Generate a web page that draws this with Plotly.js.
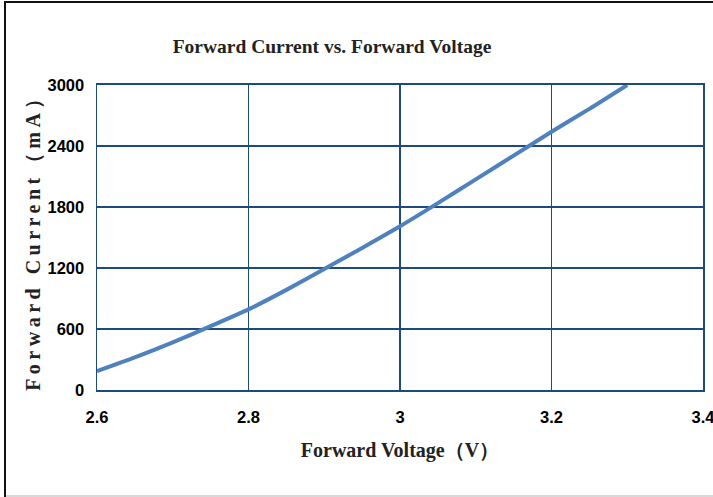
<!DOCTYPE html>
<html>
<head>
<meta charset="utf-8">
<script src="https://cdn.plot.ly/plotly-3.0.1.min.js"></script>
<style>
  html, body { margin: 0; padding: 0; background: #fff; }
  #wrap { position: relative; width: 713px; height: 497px; overflow: hidden; }
  #chart { width: 713px; height: 497px; }
  #bl { position: absolute; left: 4px; top: 1px; width: 2px; height: 496px; background: #111; }
  #bt { position: absolute; left: 4px; top: 1px; width: 709px; height: 2px; background: #111; }
  #bb { position: absolute; left: 6px; top: 495px; width: 707px; height: 2px; background: #d9d9d9; }
  .g-ytitle text { letter-spacing: 4.5px; }
</style>
</head>
<body>
<div id="wrap">
  <div id="chart"></div>
  <div id="bl"></div><div id="bt"></div><div id="bb"></div>
</div>
<script>
// Forward voltage (V) and forward current (mA)
const voltage = [2.60, 2.65, 2.70, 2.75, 2.80, 2.85, 2.90, 2.95, 3.00, 3.05, 3.10, 3.15, 3.20, 3.25, 3.30];
const current = [185, 320, 468, 628, 793, 985, 1190, 1397, 1610, 1838, 2072, 2305, 2540, 2765, 3000];
const xTicks = [2.6, 2.8, 3.0, 3.2, 3.4];
const xTickText = ['2.6', '2.8', '3', '3.2', '3.4'];
const yTicks = [0, 600, 1200, 1800, 2400, 3000];

const gridColor = '#1f4a7c';
const serif = '"Liberation Serif", "Times New Roman", serif';
const tickFont = { family: '"Liberation Sans Narrow", "Liberation Sans", Arial, sans-serif', size: 16.5, color: '#000', weight: 'bold' };

const trace = {
  x: voltage, y: current, type: 'scatter', mode: 'lines',
  line: { color: '#4f81bd', width: 4, shape: 'spline', smoothing: 0.6 },
  hoverinfo: 'skip'
};

const layout = {
  width: 713, height: 497,
  margin: { l: 97, r: 10, t: 85, b: 107 },
  paper_bgcolor: '#fff', plot_bgcolor: '#fff',
  showlegend: false,
  title: {
    text: 'Forward Current vs. Forward Voltage',
    font: { family: serif, size: 19.5, color: '#222', weight: 'bold' },
    xref: 'container', yref: 'container',
    x: 332 / 713, xanchor: 'center', y: 1 - 46 / 497, yanchor: 'middle'
  },
  xaxis: {
    range: [2.6, 3.4], tickvals: xTicks, ticktext: xTickText,
    showgrid: true, gridcolor: gridColor, gridwidth: 1.2,
    showline: true, linecolor: gridColor, linewidth: 2, mirror: true,
    zeroline: false, ticks: '', tickfont: tickFont, ticklabelstandoff: 11,
    ticklabeloverflow: 'allow',
    title: { text: 'Forward Voltage（V）', font: { family: serif, size: 20, color: '#222', weight: 'bold' }, standoff: 18 }
  },
  yaxis: {
    range: [0, 3000], tickvals: yTicks,
    showgrid: true, gridcolor: gridColor, gridwidth: 2,
    showline: true, linecolor: gridColor, linewidth: 1.5, mirror: true,
    zeroline: false, ticks: '', tickfont: tickFont, ticklabelstandoff: 8,
    ticklabeloverflow: 'allow',
    title: { text: 'Forward Current（mA）', font: { family: serif, size: 20, color: '#222', weight: 'bold' }, standoff: 1 }
  }
};

Plotly.newPlot('chart', [trace], layout, { displayModeBar: false, staticPlot: true });
</script>
</body>
</html>
